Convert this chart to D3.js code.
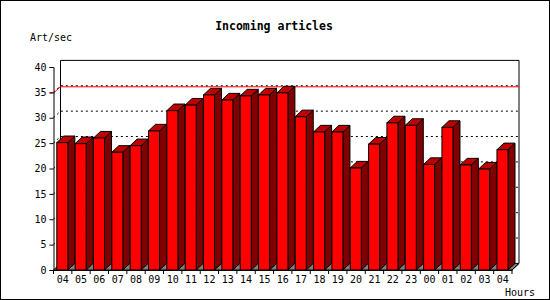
<!DOCTYPE html>
<html>
<head>
<meta charset="utf-8">
<script src="https://cdn.jsdelivr.net/npm/d3@7"></script>
<style>
  body { margin: 0; background: #fff; }
  text { font-family: "DejaVu Sans Mono", monospace; }
</style>
</head>
<body>
<div class="graph-center"></div>
<script>
// data
let hours = ['04','05','06','07','08','09','10','11','12','13','14','15','16','17','18','19','20','21','22','23','00','01','02','03','04']
let artPerSec = [25.1, 24.9, 26.0, 23.2, 24.5, 27.4, 31.4, 32.5, 34.5, 33.5, 34.3, 34.5, 34.9, 30.2, 27.2, 27.2, 20.1, 24.8, 29.0, 28.5, 20.8, 28.1, 20.7, 19.9, 23.7]
let yTicks = [0, 5, 10, 15, 20, 25, 30, 35, 40]

//global variables
let svgWidth = 550
let svgHeight = 300

let plot = { left: 53.5, right: 512, top: 67, bottom: 270 }
let depth = { dx: 7, dy: 6.6 }

let svg = d3.select('.graph-center')
    .append('svg')
    .attr('width', svgWidth)
    .attr('height', svgHeight)

// frame
svg.append('rect')
    .attr('x', 0.5).attr('y', 0.5)
    .attr('width', svgWidth - 1).attr('height', svgHeight - 1)
    .attr('fill', '#fff')
    .attr('stroke', '#000')

// scales
let xScale = d3.scaleBand()
    .domain(d3.range(hours.length))
    .range([plot.left, plot.right])

let yScale = d3.scaleLinear()
    .domain([0, 40])
    .range([plot.bottom, plot.top])

let bx = 3.3
let bw = xScale.bandwidth() - 7.3

// back wall
let backL = plot.left + depth.dx
let backR = plot.right + depth.dx
let backT = yScale(40) - depth.dy
let backB = yScale(0) - depth.dy

svg.append('path')
    .attr('d', `M${backL},${backB} L${backL},${backT} L${backR},${backT} L${backR},${backB}`)
    .attr('fill', 'none')
    .attr('stroke', '#000')

// floor
svg.append('path')
    .attr('d', `M${plot.left},${yScale(0)} L${plot.right},${yScale(0)} L${backR},${backB} L${backL},${backB} Z`)
    .attr('fill', '#808080')
    .attr('stroke', '#000')

// dotted grid on the back wall
let grid = yTicks.filter(d => d > 0 && d < 40)
svg.selectAll('.grid')
    .data(grid)
    .join('path')
    .attr('class', 'grid')
    .attr('d', d => `M${plot.left},${yScale(d)} L${backL},${yScale(d) - depth.dy} L${backR},${yScale(d) - depth.dy}`)
    .attr('fill', 'none')
    .attr('stroke', '#000')
    .attr('stroke-dasharray', '2,3')

// max line
let maxVal = d3.max(artPerSec)
svg.append('path')
    .attr('d', `M${plot.left - 4},${yScale(maxVal)} L${plot.left},${yScale(maxVal)} L${backL},${yScale(maxVal) - depth.dy + 0.5} L${backR},${yScale(maxVal) - depth.dy + 0.5}`)
    .attr('fill', 'none')
    .attr('stroke', '#f00')

// 3d bars
let bars = svg.selectAll('.bar')
    .data(artPerSec)
    .join('g')
    .attr('class', 'bar')

bars.append('path')
    .attr('d', (d, i) => {
        let x0 = xScale(i) + bx + bw, yt = yScale(d), y0 = yScale(0)
        return `M${x0},${yt} L${x0 + depth.dx},${yt - depth.dy} L${x0 + depth.dx},${y0 - depth.dy} L${x0},${y0} Z`
    })
    .attr('fill', '#800000')
    .attr('stroke', '#000')

bars.append('path')
    .attr('d', (d, i) => {
        let x0 = xScale(i) + bx, yt = yScale(d)
        return `M${x0},${yt} L${x0 + depth.dx},${yt - depth.dy} L${x0 + bw + depth.dx},${yt - depth.dy} L${x0 + bw},${yt} Z`
    })
    .attr('fill', '#c00000')
    .attr('stroke', '#000')

bars.append('rect')
    .attr('x', (d, i) => xScale(i) + bx)
    .attr('y', d => yScale(d))
    .attr('width', bw)
    .attr('height', d => yScale(0) - yScale(d))
    .attr('fill', '#f00')
    .attr('stroke', '#000')

// axis
let yAxis = d3.axisLeft(yScale)
    .tickValues(yTicks)
    .tickSizeOuter(0)
    .tickSize(4)
    .tickPadding(3)

svg.append('g')
    .attr('id', 'y-axis')
    .attr('transform', `translate(${plot.left},0)`)
    .call(yAxis)

let xAxis = d3.axisBottom(xScale)
    .tickFormat(i => hours[i])
    .tickSize(0)
    .tickSizeOuter(0)
    .tickPadding(6)

svg.append('g')
    .attr('id', 'x-axis')
    .attr('transform', `translate(0,${plot.bottom})`)
    .call(xAxis)

// tick marks sit on the slot edges
svg.selectAll('.xtick')
    .data(d3.range(hours.length + 1))
    .join('line')
    .attr('class', 'xtick')
    .attr('x1', i => i < hours.length ? xScale(i) : plot.right)
    .attr('x2', i => i < hours.length ? xScale(i) : plot.right)
    .attr('y1', plot.bottom)
    .attr('y2', plot.bottom + 4)
    .attr('stroke', '#000')

svg.append('line')
    .attr('x1', plot.right).attr('y1', plot.bottom)
    .attr('x2', backR).attr('y2', backB)
    .attr('stroke', '#000')

svg.selectAll('#x-axis text, #y-axis text')
    .attr('font-family', '"DejaVu Sans Mono", monospace')
    .attr('font-size', 10)
    .attr('fill', '#000')

svg.selectAll('#x-axis path, #y-axis path, #y-axis line')
    .attr('stroke', '#000')

// labels
svg.append('text')
    .attr('x', 274)
    .attr('y', 30)
    .attr('text-anchor', 'middle')
    .attr('font-size', 11.5)
    .attr('font-weight', 'bold')
    .text('Incoming articles')

svg.append('text')
    .attr('x', 30)
    .attr('y', 41)
    .attr('font-size', 10)
    .text('Art/sec')

svg.append('text')
    .attr('x', 505)
    .attr('y', 296)
    .attr('font-size', 10)
    .text('Hours')
</script>
</body>
</html>
